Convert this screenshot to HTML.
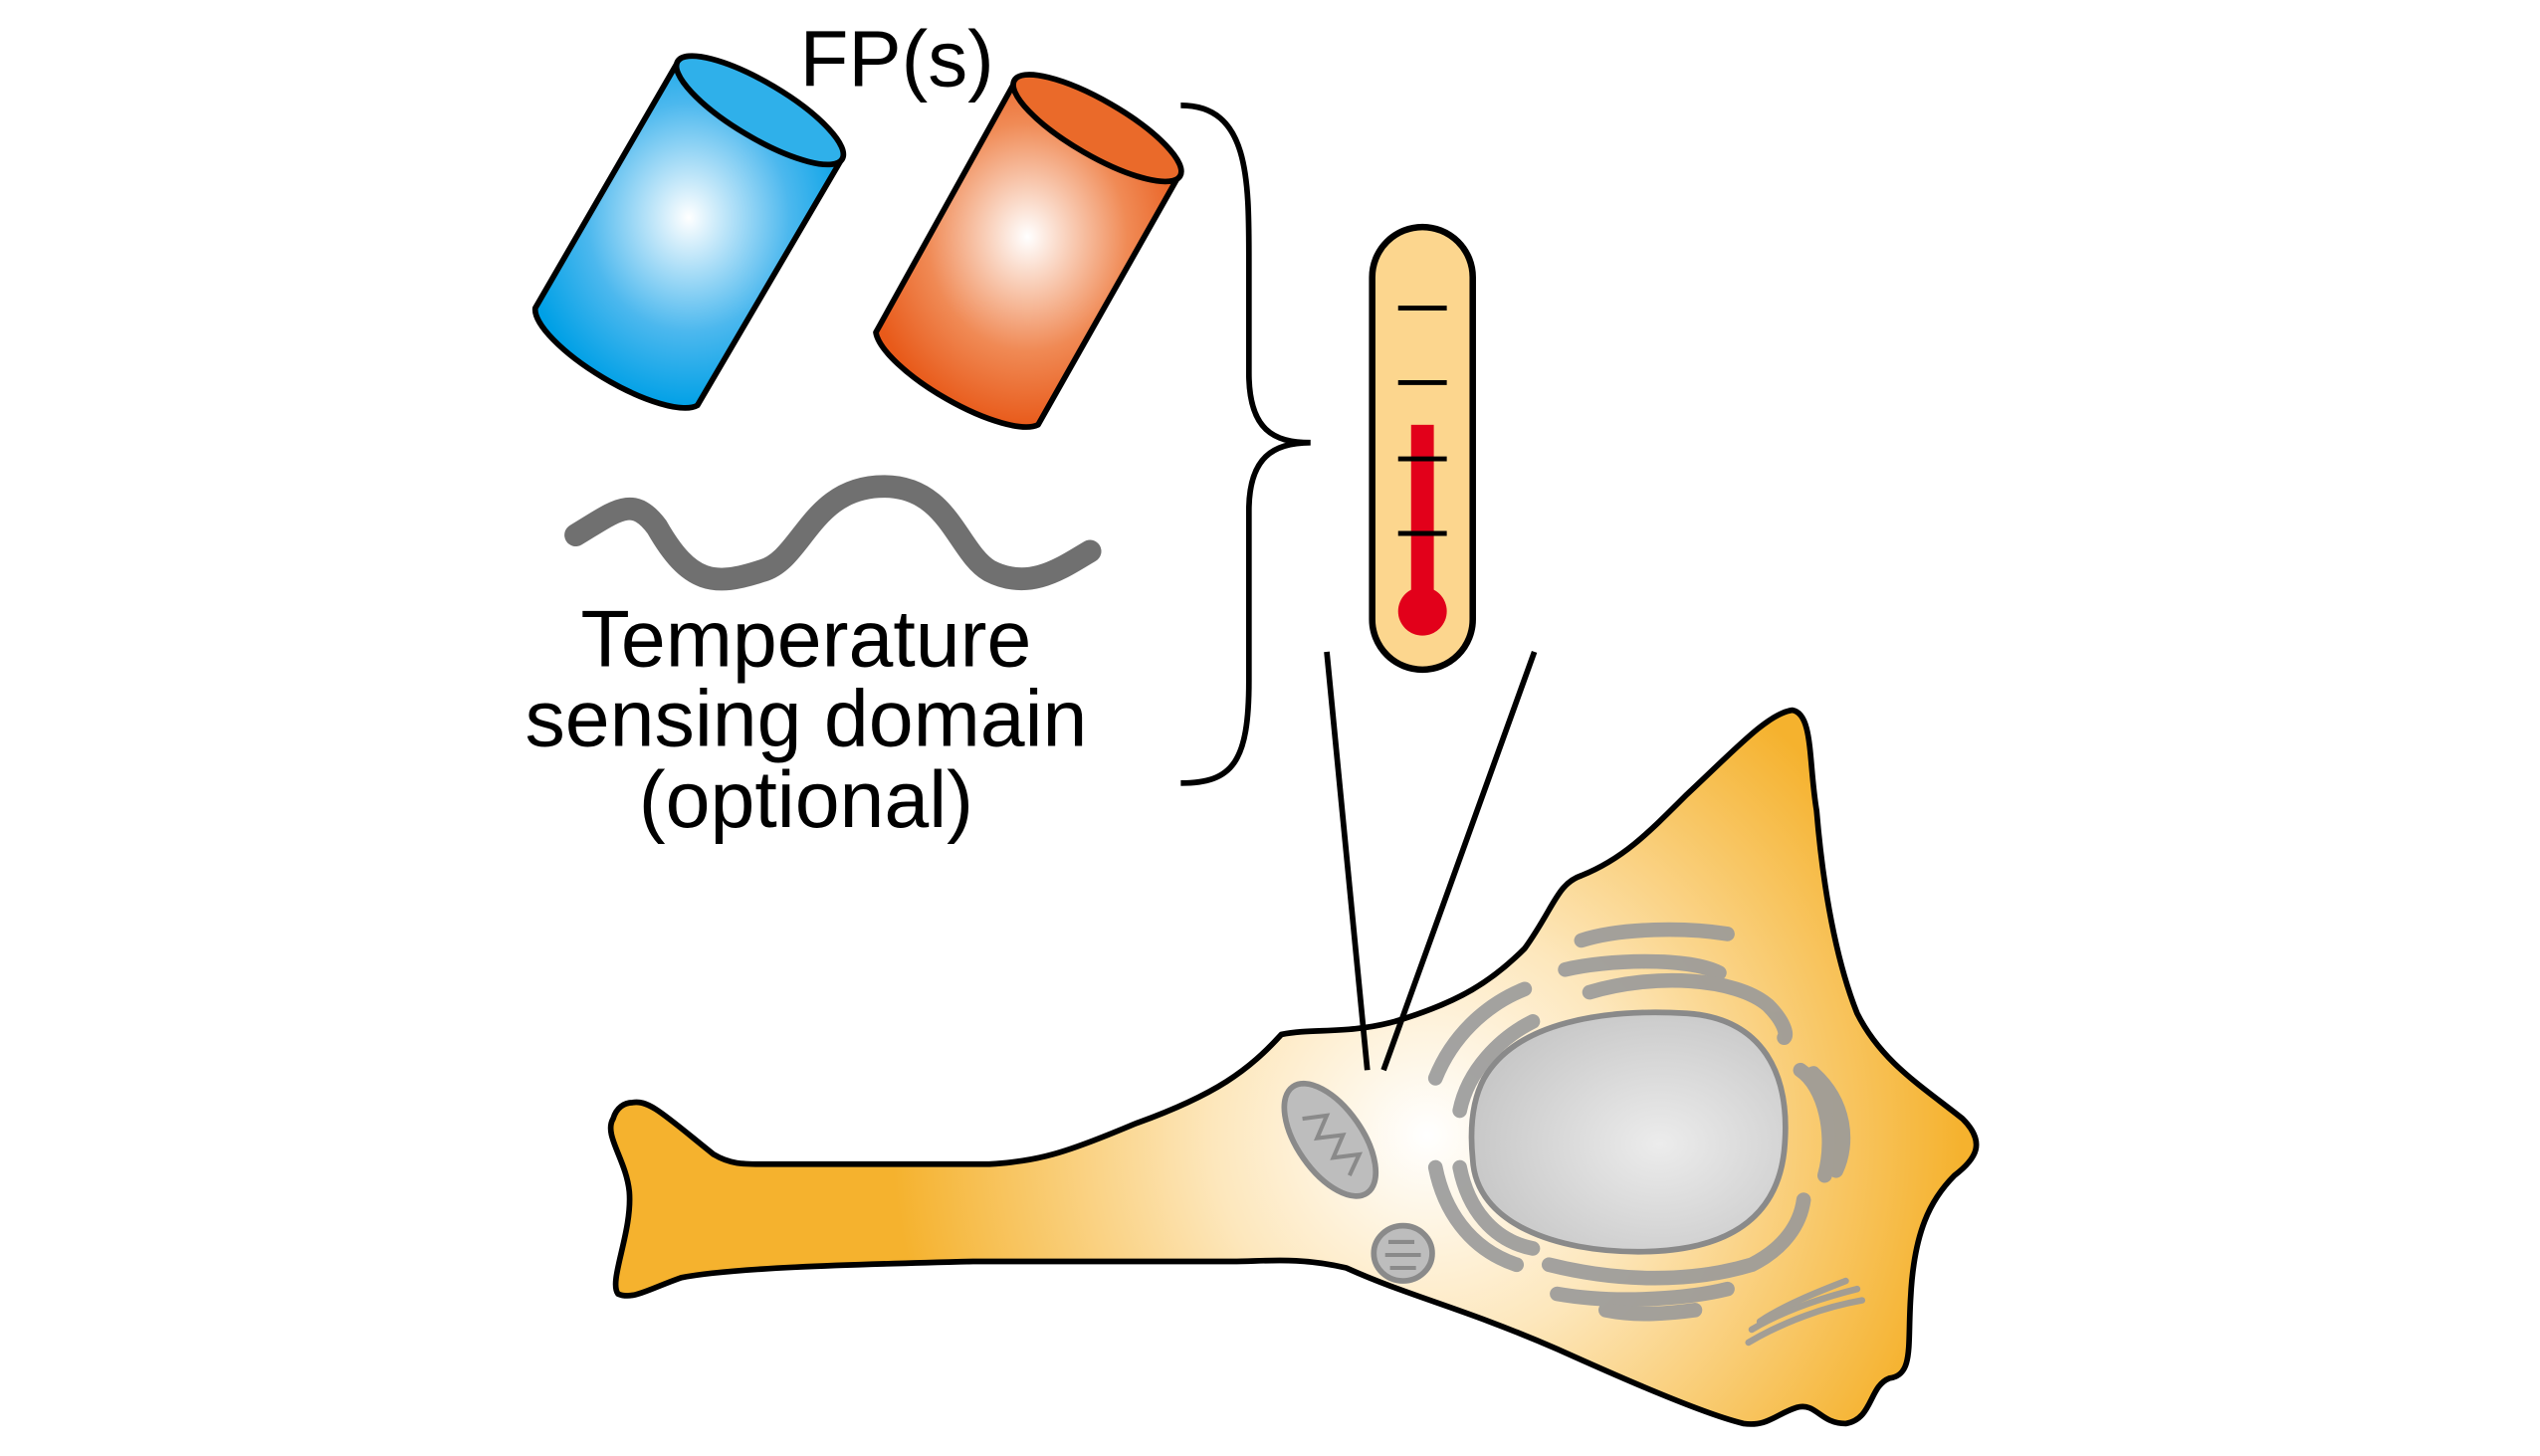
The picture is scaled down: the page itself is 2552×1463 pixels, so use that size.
<!DOCTYPE html>
<html><head><meta charset="utf-8"><style>html,body{margin:0;padding:0;background:#fff}svg{display:block}</style></head>
<body>
<svg width="2552" height="1463" viewBox="0 0 1566 898" preserveAspectRatio="none" xmlns="http://www.w3.org/2000/svg">
<defs>
<radialGradient id="gb" cx="0.5" cy="0.45" r="0.55"><stop offset="0" stop-color="#ffffff"/><stop offset="0.6" stop-color="#4cb8ee"/><stop offset="1" stop-color="#00a0e6"/></radialGradient>
<radialGradient id="go" cx="0.5" cy="0.45" r="0.55"><stop offset="0" stop-color="#ffffff"/><stop offset="0.6" stop-color="#f08a55"/><stop offset="1" stop-color="#e85a1a"/></radialGradient>
<radialGradient id="gc" gradientUnits="userSpaceOnUse" cx="880" cy="700" r="330"><stop offset="0" stop-color="#ffffff"/><stop offset="0.4" stop-color="#fde7bc"/><stop offset="1" stop-color="#f5b22e"/></radialGradient>
<radialGradient id="gn" cx="0.6" cy="0.55" r="0.6"><stop offset="0" stop-color="#ececec"/><stop offset="1" stop-color="#c8c8c8"/></radialGradient>
</defs>
<g stroke="#000" stroke-width="3.5" stroke-linejoin="round">
<path d="M418,38 L330,190 A59,18 30.7 0 0 430,250 L519,98 Z" fill="url(#gb)"/>
<ellipse cx="468.5" cy="68" rx="59" ry="17" transform="rotate(30.7 468.5 68)" fill="#2fb0ea"/>
<path d="M626,50 L540,205 A59,18 30 0 0 640,262 L727,108 Z" fill="url(#go)"/>
<ellipse cx="676.5" cy="79" rx="59" ry="17" transform="rotate(30 676.5 79)" fill="#ea6a2a"/>
</g>
<text x="553" y="53" font-family="Liberation Sans, sans-serif" font-size="49" text-anchor="middle">FP(s)</text>
<path d="M355,330 C380,315 390,305 405,325 C425,360 440,362 470,352 C495,345 500,300 545,300 C585,300 590,340 610,352 C635,365 655,350 672,340" fill="none" stroke="#707070" stroke-width="14" stroke-linecap="round"/>
<g font-family="Liberation Sans, sans-serif" font-size="49.5" text-anchor="middle">
<text x="497" y="411">Temperature</text>
<text x="497" y="460">sensing domain</text>
<text x="497" y="510">(optional)</text>
</g>
<path d="M728,65 C770,65 770,110 770,160 L770,230 C770,265 785,273 808,273 C785,273 770,282 770,315 L770,420 C770,470 760,483 728,483" fill="none" stroke="#000" stroke-width="3.5"/>
<rect x="846" y="140" width="62" height="273" rx="31" fill="#fcd68e" stroke="#000" stroke-width="4"/>
<rect x="870" y="262" width="14" height="110" fill="#e2001a"/>
<circle cx="877" cy="377" r="15" fill="#e2001a"/>
<g stroke="#000" stroke-width="3"><line x1="862" y1="190" x2="892" y2="190"/><line x1="862" y1="236" x2="892" y2="236"/><line x1="862" y1="283" x2="892" y2="283"/><line x1="862" y1="329" x2="892" y2="329"/></g>
<path d="M390,680 C400,678 410,688 440,712 C450,718 458,718 470,718 L610,718 C640,716 655,712 700,693 C750,675 770,660 790,638 C810,634 830,638 860,630 C900,618 920,605 940,585 C958,560 960,545 975,540 C1000,530 1015,515 1040,490 C1070,462 1090,440 1105,438 C1118,440 1115,470 1120,500 C1125,560 1135,600 1145,625 C1160,655 1185,670 1210,690 C1225,705 1218,715 1205,725 C1190,740 1180,760 1178,800 C1176,830 1180,848 1165,850 C1152,855 1155,875 1138,878 C1122,878 1120,865 1108,868 C1095,872 1090,880 1075,878 C1050,872 1000,850 960,832 C900,806 870,800 830,782 C800,775 780,778 760,778 L600,778 C520,780 450,782 420,788 C400,795 390,802 381,798 C375,790 390,760 388,735 C386,715 372,700 378,690 C380,683 385,680 390,680 Z" fill="url(#gc)" stroke="#000" stroke-width="3.5" stroke-linejoin="round"/>
<line x1="818" y1="402" x2="843" y2="660" stroke="#000" stroke-width="3.5"/>
<line x1="946" y1="402" x2="853" y2="660" stroke="#000" stroke-width="3.5"/>
<path d="M915,665 C935,630 990,622 1040,625 C1085,628 1105,660 1100,710 C1095,755 1060,772 1010,772 C960,772 910,755 908,715 C906,695 908,678 915,665 Z" fill="url(#gn)" stroke="#8a8a8a" stroke-width="3.5"/>
<g fill="none" stroke="#9a9a9a" stroke-width="9" stroke-linecap="round" opacity="0.9">
<path d="M975,580 C1000,572 1040,572 1065,576"/>
<path d="M965,598 C990,592 1040,590 1060,600"/>
<path d="M980,612 C1020,600 1070,603 1090,620 C1100,630 1102,638 1100,640"/>
<path d="M940,610 C915,620 895,640 885,665"/>
<path d="M945,630 C925,640 905,660 900,685"/>
<path d="M1110,660 C1125,670 1132,700 1125,725"/>
<path d="M1118,662 C1138,680 1140,705 1132,722"/>
<path d="M885,720 C890,745 905,770 935,780"/>
<path d="M900,720 C905,745 920,765 945,770"/>
<path d="M955,780 C995,790 1040,792 1080,780 C1100,770 1110,755 1112,740"/>
<path d="M960,798 C1000,805 1045,800 1065,795"/>
<path d="M990,808 C1010,812 1030,810 1045,808"/>
<path d="M1080,820 C1100,808 1125,800 1145,795" stroke-width="4"/>
<path d="M1078,828 C1100,815 1125,806 1148,802" stroke-width="4"/>
<path d="M1085,815 C1100,805 1120,797 1138,790" stroke-width="4"/>
</g>
<g fill="#bdbdbd" stroke="#8a8a8a" stroke-width="3.5">
<ellipse cx="820" cy="703" rx="20" ry="40" transform="rotate(-35 820 703)"/>
<ellipse cx="865" cy="773" rx="18" ry="17"/>
</g>
<g fill="none" stroke="#8a8a8a" stroke-width="2.5">
<path d="M803,690 L818,688 L812,702 L828,700 L822,714 L838,712 L832,725"/>
<path d="M856,766 L872,766 M854,774 L876,774 M857,782 L873,782"/>
</g>
</svg>
</body></html>
